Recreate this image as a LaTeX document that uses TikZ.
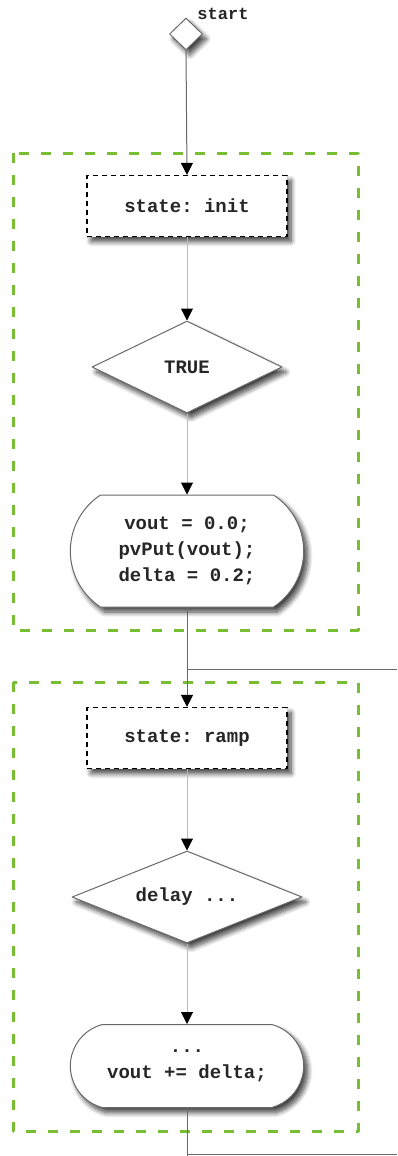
\documentclass[tikz,border=0pt]{standalone}
\usepackage{fontspec}
\setmonofont{Liberation Mono}
\usetikzlibrary{shapes.geometric,shapes.misc,shadows.blur,arrows.meta}
\definecolor{groupgreen}{RGB}{120,190,50}
\definecolor{edgegray}{RGB}{105,105,105}
\definecolor{linegray}{RGB}{185,185,185}

\begin{document}
\begin{tikzpicture}[x=1pt, y=-1pt, line join=round,
  font=\ttfamily\bfseries\fontsize{19}{26}\selectfont, text=black!85,
  >={Triangle[width=12pt,length=12pt,color=black]},
  shade/.style={blur shadow={shadow xshift=4pt, shadow yshift=-5pt,
      shadow blur radius=5pt, shadow blur steps=8, shadow opacity=75}},
  statebox/.style={draw=black, line width=1.2pt, dash pattern=on 5pt off 4pt,
      fill=white, minimum width=200pt, minimum height=61pt, shade},
  test/.style={diamond, aspect=2.5, draw=edgegray, line width=1pt, fill=white,
      inner sep=0pt, minimum height=92pt, shade},
  action/.style={rounded rectangle, draw=edgegray, line width=1pt, fill=white,
      minimum width=240pt, align=center, shade},
  group/.style={draw=groupgreen, line width=3pt, dash pattern=on 10pt off 12pt},
  flow/.style={draw=linegray, line width=1pt, ->},
  mainflow/.style={draw=edgegray, line width=1pt}]
\useasboundingbox (0,0) rectangle (397,1156);

% state groups
\draw[group] (13,153) rectangle (358,630);
\draw[group] (13,682) rectangle (358,1131);

\node[test, aspect=1, minimum width=33pt, minimum height=32pt] (start) at (186,34) {};
\node[font=\ttfamily\bfseries\fontsize{17}{20}\selectfont] (startlabel) at (223,14) {start};

\node[statebox] (init) at (187,206) {state: init};
\node[test, minimum width=190pt] (true) at (187,367) {TRUE};
\node[action, minimum height=112pt, rounded rectangle arc length=113] (act1) at (187,551)
  {vout = 0.0;\\pvPut(vout);\\delta = 0.2;};

\node[statebox] (ramp) at (187,738) {state: ramp};
\node[test, minimum width=230pt] (delay) at (187,897) {delay ...};
\node[action, minimum height=83pt, rounded rectangle arc length=150] (act2) at (187,1066)
  {...\\vout += delta;};

\coordinate (split1) at (187,669);
\coordinate (exit1) at (397,669);
\coordinate (bottom) at (187,1156);
\coordinate (exit2) at (397,1154);

\draw[mainflow,->] (start.south) -- (init.north);
\draw[flow] (init.south) -- (true.north);
\draw[flow] (true.south) -- (act1.north);
\draw[mainflow,->] (act1.south) -- (ramp.north);
\draw[mainflow] (split1) -- (exit1);
\draw[flow] (ramp.south) -- (delay.north);
\draw[flow] (delay.south) -- (act2.north);
\draw[mainflow] (act2.south) -- (bottom);
\draw[mainflow] (bottom |- exit2) -- (exit2);
\end{tikzpicture}
\end{document}
